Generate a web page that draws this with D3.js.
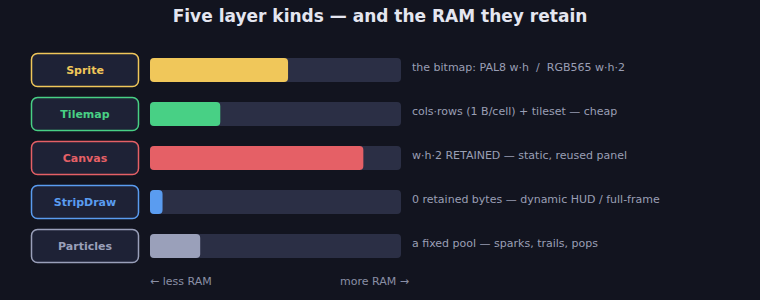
<!DOCTYPE html>
<html>
<head>
<meta charset="utf-8">
<script src="https://cdn.jsdelivr.net/npm/d3@7"></script>
<style>
  html, body { margin: 0; padding: 0; background: #12141f; }
  svg { display: block; font-family: "DejaVu Sans", sans-serif; }
  text { white-space: pre; }
</style>
</head>
<body>
<div id="chart"></div>
<script>
// layer kinds and their relative RAM cost (0 = none, 1 = most)
var kinds = ["Sprite", "Tilemap", "Canvas", "StripDraw", "Particles"]
var ramShare = [0.55, 0.28, 0.85, 0.05, 0.20]
var notes = [
    "the bitmap: PAL8 w·h  /  RGB565 w·h·2",
    "cols·rows (1 B/cell) + tileset — cheap",
    "w·h·2 RETAINED — static, reused panel",
    "0 retained bytes — dynamic HUD / full-frame",
    "a fixed pool — sparks, trails, pops"
]
var colors = ["#f0c75a", "#48d085", "#e56066", "#5a9cf0", "#9aa0ba"]

var width = 760, height = 300;

var svg = d3.select("#chart")
    .append("svg")
    .attr("width", width)
    .attr("height", height);

svg.append("text")
    .attr("x", width / 2)
    .attr("y", 22)
    .attr("text-anchor", "middle")
    .style("font-size", "17px")
    .style("font-weight", "bold")
    .style("fill", "#e4e6f0")
    .text("Five layer kinds — and the RAM they retain");

// row positions: 34px rows, 44px step
var y = d3.scaleBand()
    .domain(kinds)
    .range([53, 263])
    .paddingInner(10 / 44)
    .paddingOuter(0);

// bar length
var x = d3.scaleLinear()
    .domain([0, 1])
    .range([150, 401]);

var row = svg.selectAll(".row")
    .data(kinds)
    .enter()
    .append("g")
    .attr("class", "row")
    .attr("transform", function (d) { return "translate(0," + y(d) + ")"; });

var bh = y.bandwidth();

// label chips
row.append("rect")
    .attr("x", 31.5)
    .attr("y", 0.5)
    .attr("width", 107)
    .attr("height", bh - 1)
    .attr("rx", 6)
    .style("fill", "#1e2236")
    .style("stroke", function (d, i) { return colors[i]; })
    .style("stroke-width", 1.5);

row.append("text")
    .attr("x", 85)
    .attr("y", bh / 2 + 4)
    .attr("text-anchor", "middle")
    .style("font-size", "11px")
    .style("font-weight", "bold")
    .style("fill", function (d, i) { return colors[i]; })
    .text(function (d) { return d; });

// track
row.append("rect")
    .attr("x", x(0))
    .attr("y", 5)
    .attr("width", x(1) - x(0))
    .attr("height", 24)
    .attr("rx", 4)
    .style("fill", "#2b2f45");

// fill
row.append("rect")
    .attr("x", x(0))
    .attr("y", 5)
    .attr("width", function (d, i) { return x(ramShare[i]) - x(0); })
    .attr("height", 24)
    .attr("rx", 4)
    .style("fill", function (d, i) { return colors[i]; });

row.append("text")
    .attr("x", 412)
    .attr("y", 18)
    .style("font-size", "11px")
    .style("fill", "#9a9fb5")
    .text(function (d, i) { return notes[i]; });

// axis hints
svg.append("text")
    .attr("x", x(0))
    .attr("y", 285)
    .style("font-size", "11px")
    .style("fill", "#8a8fa5")
    .text("← less RAM");

svg.append("text")
    .attr("x", x(1) + 8)
    .attr("y", 285)
    .attr("text-anchor", "end")
    .style("font-size", "11px")
    .style("fill", "#8a8fa5")
    .text("more RAM →");
</script>
</body>
</html>
